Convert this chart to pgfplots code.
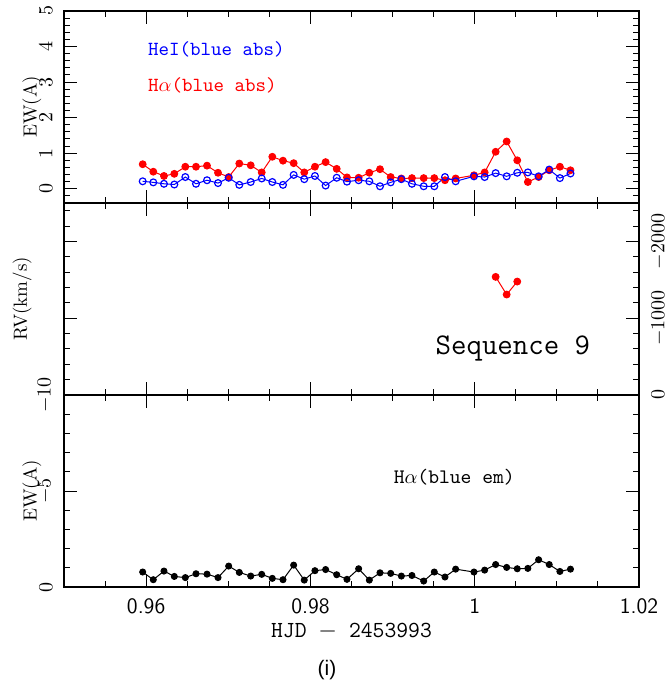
\documentclass[border=0pt]{standalone}
\usepackage{pgfplots}
\usepackage{pgfplotstable}
\pgfplotsset{compat=1.18}
\usepackage{fontspec}
\newfontfamily\lsans{Liberation Sans}

\pgfplotstableread{
x red blue black
0.95958 0.69 0.21 -0.78
0.96087 0.48 0.18 -0.38
0.96217 0.36 0.14 -0.83
0.96343 0.42 0.12 -0.55
0.96477 0.62 0.33 -0.49
0.96607 0.62 0.14 -0.69
0.96741 0.65 0.24 -0.67
0.96875 0.45 0.16 -0.49
0.97005 0.33 0.31 -1.09
0.97134 0.71 0.11 -0.76
0.97273 0.66 0.19 -0.57
0.97407 0.46 0.29 -0.66
0.97536 0.90 0.19 -0.45
0.97666 0.79 0.11 -0.38
0.97796 0.72 0.39 -1.14
0.97925 0.46 0.27 -0.36
0.98055 0.62 0.36 -0.85
0.98185 0.75 0.09 -0.91
0.98320 0.56 0.31 -0.64
0.98445 0.32 0.20 -0.40
0.98587 0.31 0.24 -0.95
0.98717 0.45 0.21 -0.36
0.98847 0.55 0.07 -0.74
0.98977 0.33 0.18 -0.71
0.99107 0.29 0.27 -0.57
0.99236 0.30 0.14 -0.60
0.99379 0.30 0.07 -0.31
0.99508 0.30 0.07 -0.78
0.99638 0.24 0.33 -0.52
0.99768 0.29 0.21 -0.93
0.99991 0.38 0.35 -0.78
1.00121 0.46 0.33 -0.88
1.00255 1.04 0.44 -1.17
1.00389 1.33 0.35 -1.02
1.00518 0.80 0.45 -0.95
1.00647 0.19 0.46 -0.97
1.00778 0.33 0.35 -1.42
1.00907 0.52 0.54 -1.17
1.01037 0.62 0.30 -0.81
1.01166 0.52 0.43 -0.93
}\ewdata

\pgfplotstableread{
x rv
1.00255 -1538
1.00389 -1308
1.00518 -1477
}\rvdata

\pgfplotsset{
  panel/.style={
    scale only axis, width=287.5pt, height=96pt,
    xmin=0.95, xmax=1.02,
    xtick={0.96,0.98,1.0,1.02},
    minor xtick={0.955,0.965,0.97,0.975,0.985,0.99,0.995,1.005,1.01,1.015},
    tick align=inside, xtick pos=both, ytick pos=both,
    major tick length=6.5pt, minor tick length=3.2pt,
    axis line style={line width=0.6pt},
    tick style={line width=0.5pt, black},
    scaled ticks=false,
    label style={font=\fontsize{9.5}{11}\selectfont},
    yticklabel style={rotate=90, inner sep=1pt},
  },
}

\begin{document}
\begin{tikzpicture}
\useasboundingbox (-32pt,-48.5pt) rectangle (300.5pt,293.5pt);

% top panel
\begin{axis}[panel, at={(0,192pt)},
  ymin=-0.4, ymax=5,
  ytick={0,1,2,3,4,5},
  minor ytick={-0.2,0,...,5},
  yticklabel style={anchor=south},
  yticklabel shift=4.6pt,
  xticklabels={},
  ylabel={EW(A)},
  ylabel style={at={(axis description cs:-0.0557,0.5)}, anchor=center},
]
\addplot[red, line width=0.5pt, mark=*, mark size=1.7pt] table[x=x, y=red] {\ewdata};
\addplot[blue, line width=0.5pt, mark=o, mark size=1.7pt, mark options={line width=0.6pt}] table[x=x, y=blue] {\ewdata};
\node[anchor=west, inner sep=0pt, text=blue, font=\ttfamily\fontsize{10}{12}\selectfont] at (axis cs:0.9602,3.92) {HeI(blue abs)};
\node[anchor=west, inner sep=0pt, text=red, font=\ttfamily\fontsize{10}{12}\selectfont] at (axis cs:0.9602,2.90) {H$\alpha$(blue abs)};
\end{axis}

% middle panel
\begin{axis}[panel, at={(0,96pt)},
  ymin=-2500, ymax=0, y dir=reverse,
  ytick={-2000,-1000,0},
  yticklabels={$-2000$,$-1000$,$0$},
  minor ytick={-2400,-2200,...,0},
  yticklabel pos=right,
  yticklabel style={anchor=north, inner sep=0.5pt, font=\fontsize{9.6}{10}\selectfont},
  yticklabel shift=5.6pt,
  xticklabels={},
  ylabel={RV(km/s)},
  ylabel style={at={(axis description cs:-0.073,0.5)}, anchor=center},
]
\addplot[red, line width=0.5pt, mark=*, mark size=1.7pt] table[x=x, y=rv] {\rvdata};
\node[anchor=west, inner sep=0pt, font=\ttfamily\fontsize{15}{17}\selectfont] at (axis cs:0.9952,-600) {Sequence 9};
\end{axis}

% bottom panel
\begin{axis}[panel, at={(0,0)},
  ymin=-10, ymax=0, y dir=reverse,
  ytick={-10,-5,0},
  minor ytick={-10,-9,...,0},
  yticklabel style={anchor=south},
  yticklabel shift=4.6pt,
  xticklabels={0.96,0.98,1,1.02},
  xticklabel style={font=\sffamily\fontsize{11}{12}\selectfont, inner sep=0.5pt},
  xticklabel shift=5.3pt,
  xlabel={\ttfamily\fontsize{11.5}{13}\selectfont HJD $-$ 2453993},
  xlabel style={at={(axis description cs:0.5,0)}, anchor=center, yshift=-22pt, inner sep=0.5pt},
  ylabel={EW(A)},
  ylabel style={at={(axis description cs:-0.0557,0.5)}, anchor=center},
]
\addplot[black, line width=0.5pt, mark=*, mark size=1.5pt] table[x=x, y=black] {\ewdata};
\node[anchor=west, inner sep=0pt, font=\ttfamily\fontsize{10.3}{12}\selectfont] at (axis cs:0.9901,-5.72) {H$\alpha$(blue em)};
\end{axis}

\node[font=\lsans\fontsize{10.5}{12}\selectfont] at (131.5pt,-41.5pt) {(i)};
\end{tikzpicture}
\end{document}
